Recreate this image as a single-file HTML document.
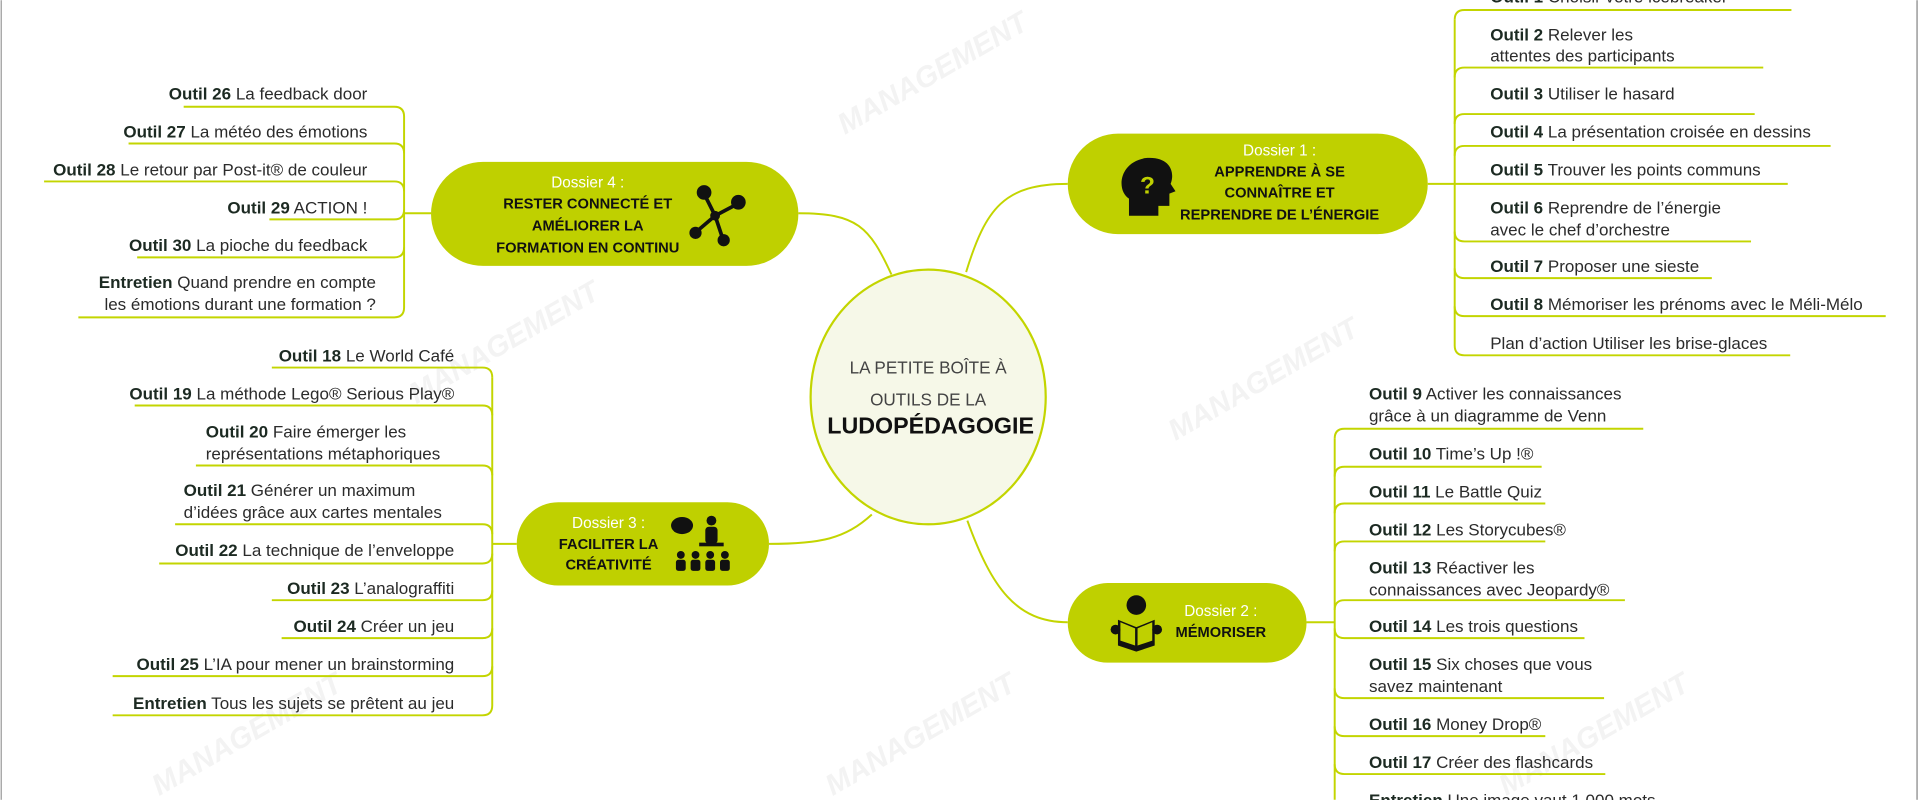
<!DOCTYPE html>
<html><head><meta charset="utf-8"><style>
html,body{margin:0;padding:0;background:#fff;width:1920px;height:800px;overflow:hidden}
svg{display:block}
text{font-family:"Liberation Sans",sans-serif;fill:#2b2b2b;font-size:13.9px}
.b{font-weight:bold;fill:#1c2a22}
.w{fill:#fff;font-size:12.5px}
.h{font-weight:bold;fill:#111;font-size:12px}
.ln{fill:none;stroke:#c3d500;stroke-width:1.6}
.wm{font-family:"Liberation Sans",sans-serif;font-weight:bold;font-style:italic;font-size:24px;fill:#f3f3f3}
</style></head><body>
<svg width="1920" height="800" viewBox="0 0 1568 653">
<rect x="0.5" y="0" width="1" height="653" fill="#999"/>
<rect x="1565" y="0" width="1.2" height="653" fill="#999"/>
<!-- watermarks -->
<g>
<text class="wm" transform="translate(690,110) rotate(-30)">MANAGEMENT</text>
<text class="wm" transform="translate(340,330) rotate(-30)">MANAGEMENT</text>
<text class="wm" transform="translate(960,360) rotate(-30)">MANAGEMENT</text>
<text class="wm" transform="translate(1230,650) rotate(-30)">MANAGEMENT</text>
<text class="wm" transform="translate(130,650) rotate(-30)">MANAGEMENT</text>
<text class="wm" transform="translate(680,650) rotate(-30)">MANAGEMENT</text>
</g>

<!-- center connectors -->
<path class="ln" d="M789,222 C805,170 820,150 872,150"/>
<path class="ln" d="M728,224 C710,185 700,174 652,174"/>
<path class="ln" d="M712,420 C690,440 670,444 628,444"/>
<path class="ln" d="M790,425 C810,480 830,508 872,508"/>

<!-- center -->
<ellipse cx="758" cy="324" rx="96" ry="104" fill="#f6f8e8" stroke="#c3d500" stroke-width="1.8"/>
<text x="758" y="305" text-anchor="middle" style="font-size:14px;fill:#444">LA PETITE BOÎTE À</text>
<text x="758" y="331" text-anchor="middle" style="font-size:14px;fill:#444">OUTILS DE LA</text>
<text x="760" y="354" text-anchor="middle" style="font-size:19px;font-weight:bold;fill:#111">LUDOPÉDAGOGIE</text>

<!-- Dossier 1 -->
<rect x="872" y="109" width="294" height="82" rx="41" fill="#bfd000"/>
<text class="w" x="1045" y="127" text-anchor="middle">Dossier 1 :</text>
<text class="h" x="1045" y="144" text-anchor="middle">APPRENDRE À SE</text>
<text class="h" x="1045" y="161" text-anchor="middle">CONNAÎTRE ET</text>
<text class="h" x="1045" y="179" text-anchor="middle">REPRENDRE DE L’ÉNERGIE</text>
<path d="M922,176 L922,162 C912,156 913,133 935,129 C955,127 960,140 956,150 L960,156 L955,158 L955,168 L946,168 L946,176 Z" fill="#111"/>
<text x="931" y="158" style="font-size:20px;font-weight:bold;fill:#bfd000">?</text>

<path class="ln" d="M1166,150 L1188,150"/>
<path class="ln" d="M1188,16 L1188,282"/>
<path class="ln" d="M1188,16 Q1188,8 1196,8 L1463,8"/>
<path class="ln" d="M1188,63 Q1188,55 1196,55 L1440,55"/>
<path class="ln" d="M1188,101 Q1188,93 1196,93 L1433,93"/>
<path class="ln" d="M1188,127 Q1188,119 1196,119 L1495,119"/>
<path class="ln" d="M1188,150 L1460,150"/>
<path class="ln" d="M1188,189 Q1188,197 1196,197 L1430,197"/>
<path class="ln" d="M1188,219 Q1188,227 1196,227 L1398,227"/>
<path class="ln" d="M1188,250 Q1188,258 1196,258 L1540,258"/>
<path class="ln" d="M1188,282 Q1188,290 1196,290 L1462,290"/>
<text x="1217" y="2"><tspan class="b">Outil 1</tspan> Choisir votre icebreaker</text>
<text x="1217" y="33"><tspan class="b">Outil 2</tspan> Relever les</text>
<text x="1217" y="50">attentes des participants</text>
<text x="1217" y="81"><tspan class="b">Outil 3</tspan> Utiliser le hasard</text>
<text x="1217" y="112"><tspan class="b">Outil 4</tspan> La présentation croisée en dessins</text>
<text x="1217" y="143"><tspan class="b">Outil 5</tspan> Trouver les points communs</text>
<text x="1217" y="174"><tspan class="b">Outil 6</tspan> Reprendre de l’énergie</text>
<text x="1217" y="192">avec le chef d’orchestre</text>
<text x="1217" y="222"><tspan class="b">Outil 7</tspan> Proposer une sieste</text>
<text x="1217" y="253"><tspan class="b">Outil 8</tspan> Mémoriser les prénoms avec le Méli-Mélo</text>
<text x="1217" y="285">Plan d’action Utiliser les brise-glaces</text>

<!-- Dossier 2 -->
<rect x="872" y="476" width="195" height="65" rx="32.5" fill="#bfd000"/>
<text class="w" x="997" y="503" text-anchor="middle">Dossier 2 :</text>
<text class="h" x="997" y="520" text-anchor="middle">MÉMORISER</text>
<circle cx="928" cy="494" r="8" fill="#111"/>
<path d="M913,506 L928,512 L943,506 L943,527 L928,532 L913,527 Z" fill="#111"/>
<path d="M915,508 L927,513 L927,527 L915,523 Z M941,508 L929,513 L929,527 L941,523 Z" fill="#bfd000"/>
<circle cx="911" cy="514" r="4" fill="#111"/><circle cx="945" cy="514" r="4" fill="#111"/>

<path class="ln" d="M1067,508 L1090,508"/>
<path class="ln" d="M1090,358 L1090,653"/>
<path class="ln" d="M1090,358 Q1090,350 1098,350 L1342,350"/>
<path class="ln" d="M1090,389 Q1090,381 1098,381 L1259,381"/>
<path class="ln" d="M1090,419 Q1090,411 1098,411 L1262,411"/>
<path class="ln" d="M1090,450 Q1090,442 1098,442 L1262,442"/>
<path class="ln" d="M1090,498 Q1090,490 1098,490 L1327,490"/>
<path class="ln" d="M1090,513 Q1090,521 1098,521 L1294,521"/>
<path class="ln" d="M1090,562 Q1090,570 1098,570 L1310,570"/>
<path class="ln" d="M1090,593 Q1090,601 1098,601 L1262,601"/>
<path class="ln" d="M1090,624 Q1090,632 1098,632 L1311,632"/>
<text x="1118" y="326"><tspan class="b">Outil 9</tspan> Activer les connaissances</text>
<text x="1118" y="344">grâce à un diagramme de Venn</text>
<text x="1118" y="375"><tspan class="b">Outil 10</tspan> Time’s Up !®</text>
<text x="1118" y="406"><tspan class="b">Outil 11</tspan> Le Battle Quiz</text>
<text x="1118" y="437"><tspan class="b">Outil 12</tspan> Les Storycubes®</text>
<text x="1118" y="468"><tspan class="b">Outil 13</tspan> Réactiver les</text>
<text x="1118" y="486">connaissances avec Jeopardy®</text>
<text x="1118" y="516"><tspan class="b">Outil 14</tspan> Les trois questions</text>
<text x="1118" y="547"><tspan class="b">Outil 15</tspan> Six choses que vous</text>
<text x="1118" y="565">savez maintenant</text>
<text x="1118" y="596"><tspan class="b">Outil 16</tspan> Money Drop®</text>
<text x="1118" y="627"><tspan class="b">Outil 17</tspan> Créer des flashcards</text>
<text x="1118" y="658"><tspan class="b">Entretien</tspan> Une image vaut 1 000 mots</text>

<!-- Dossier 4 -->
<rect x="352" y="132" width="300" height="85" rx="42.5" fill="#bfd000"/>
<text class="w" x="480" y="153" text-anchor="middle">Dossier 4 :</text>
<text class="h" x="480" y="170" text-anchor="middle">RESTER CONNECTÉ ET</text>
<text class="h" x="480" y="188" text-anchor="middle">AMÉLIORER LA</text>
<text class="h" x="480" y="206" text-anchor="middle">FORMATION EN CONTINU</text>
<g stroke="#111" stroke-width="3">
<line x1="576" y1="160" x2="584" y2="176"/><line x1="584" y1="176" x2="601" y2="167"/><line x1="584" y1="176" x2="570" y2="188"/><line x1="584" y1="176" x2="590" y2="194"/></g>
<circle cx="575" cy="157" r="6" fill="#111"/><circle cx="603" cy="165" r="6" fill="#111"/><circle cx="568" cy="190" r="5" fill="#111"/><circle cx="591" cy="196" r="5" fill="#111"/><circle cx="584" cy="176" r="4" fill="#111"/>

<path class="ln" d="M352,174 L330,174"/>
<path class="ln" d="M330,95 L330,251"/>
<path class="ln" d="M330,95 Q330,87 322,87 L150,87"/>
<path class="ln" d="M330,125 Q330,117 322,117 L105,117"/>
<path class="ln" d="M330,156 Q330,148 322,148 L36,148"/>
<path class="ln" d="M330,171 Q330,179 322,179 L220,179"/>
<path class="ln" d="M330,202 Q330,210 322,210 L112,210"/>
<path class="ln" d="M330,251 Q330,259 322,259 L64,259"/>
<text x="300" y="81" text-anchor="end"><tspan class="b">Outil 26</tspan>  La feedback door</text>
<text x="300" y="112" text-anchor="end"><tspan class="b">Outil 27</tspan>  La météo des émotions</text>
<text x="300" y="143" text-anchor="end"><tspan class="b">Outil 28</tspan>  Le retour par Post-it® de couleur</text>
<text x="300" y="174" text-anchor="end"><tspan class="b">Outil  29</tspan> ACTION !</text>
<text x="300" y="205" text-anchor="end"><tspan class="b">Outil 30</tspan> La pioche du feedback</text>
<text x="307" y="235" text-anchor="end"><tspan class="b">Entretien</tspan> Quand prendre en compte</text>
<text x="307" y="253" text-anchor="end">les émotions durant une formation ?</text>

<!-- Dossier 3 -->
<rect x="422" y="410" width="206" height="68" rx="34" fill="#bfd000"/>
<text class="w" x="497" y="431" text-anchor="middle">Dossier 3 :</text>
<text class="h" x="497" y="448" text-anchor="middle">FACILITER LA</text>
<text class="h" x="497" y="465" text-anchor="middle">CRÉATIVITÉ</text>
<ellipse cx="557" cy="429" rx="9" ry="7" fill="#111"/>
<circle cx="581" cy="425" r="4" fill="#111"/><rect x="576" y="430" width="10" height="14" rx="3" fill="#111"/><rect x="571" y="443" width="20" height="3" fill="#111"/>
<g fill="#111"><circle cx="556" cy="453" r="3.2"/><rect x="552" y="457" width="8" height="9" rx="2"/><circle cx="568" cy="453" r="3.2"/><rect x="564" y="457" width="8" height="9" rx="2"/><circle cx="580" cy="453" r="3.2"/><rect x="576" y="457" width="8" height="9" rx="2"/><circle cx="592" cy="453" r="3.2"/><rect x="588" y="457" width="8" height="9" rx="2"/></g>

<path class="ln" d="M422,444 L402,444"/>
<path class="ln" d="M402,308 L402,576"/>
<path class="ln" d="M402,308 Q402,300 394,300 L222,300"/>
<path class="ln" d="M402,339 Q402,331 394,331 L110,331"/>
<path class="ln" d="M402,388 Q402,380 394,380 L160,380"/>
<path class="ln" d="M402,436 Q402,428 394,428 L143,428"/>
<path class="ln" d="M402,452 Q402,460 394,460 L130,460"/>
<path class="ln" d="M402,482 Q402,490 394,490 L222,490"/>
<path class="ln" d="M402,513 Q402,521 394,521 L230,521"/>
<path class="ln" d="M402,544 Q402,552 394,552 L92,552"/>
<path class="ln" d="M402,576 Q402,584 394,584 L92,584"/>
<text x="371" y="295" text-anchor="end"><tspan class="b">Outil 18</tspan> Le World Café</text>
<text x="371" y="326" text-anchor="end"><tspan class="b">Outil 19</tspan> La méthode Lego® Serious Play®</text>
<text x="168" y="357"><tspan class="b">Outil 20</tspan> Faire émerger les</text>
<text x="168" y="375">représentations métaphoriques</text>
<text x="150" y="405"><tspan class="b">Outil 21</tspan> Générer un maximum</text>
<text x="150" y="423">d’idées grâce aux cartes mentales</text>
<text x="371" y="454" text-anchor="end"><tspan class="b">Outil 22</tspan> La technique de l’enveloppe</text>
<text x="371" y="485" text-anchor="end"><tspan class="b">Outil 23</tspan> L’analograffiti</text>
<text x="371" y="516" text-anchor="end"><tspan class="b">Outil 24</tspan>  Créer un jeu</text>
<text x="371" y="547" text-anchor="end"><tspan class="b">Outil 25</tspan>  L’IA pour mener un brainstorming</text>
<text x="371" y="579" text-anchor="end"><tspan class="b">Entretien</tspan>  Tous les sujets se prêtent au jeu</text>
</svg>
</body></html>
